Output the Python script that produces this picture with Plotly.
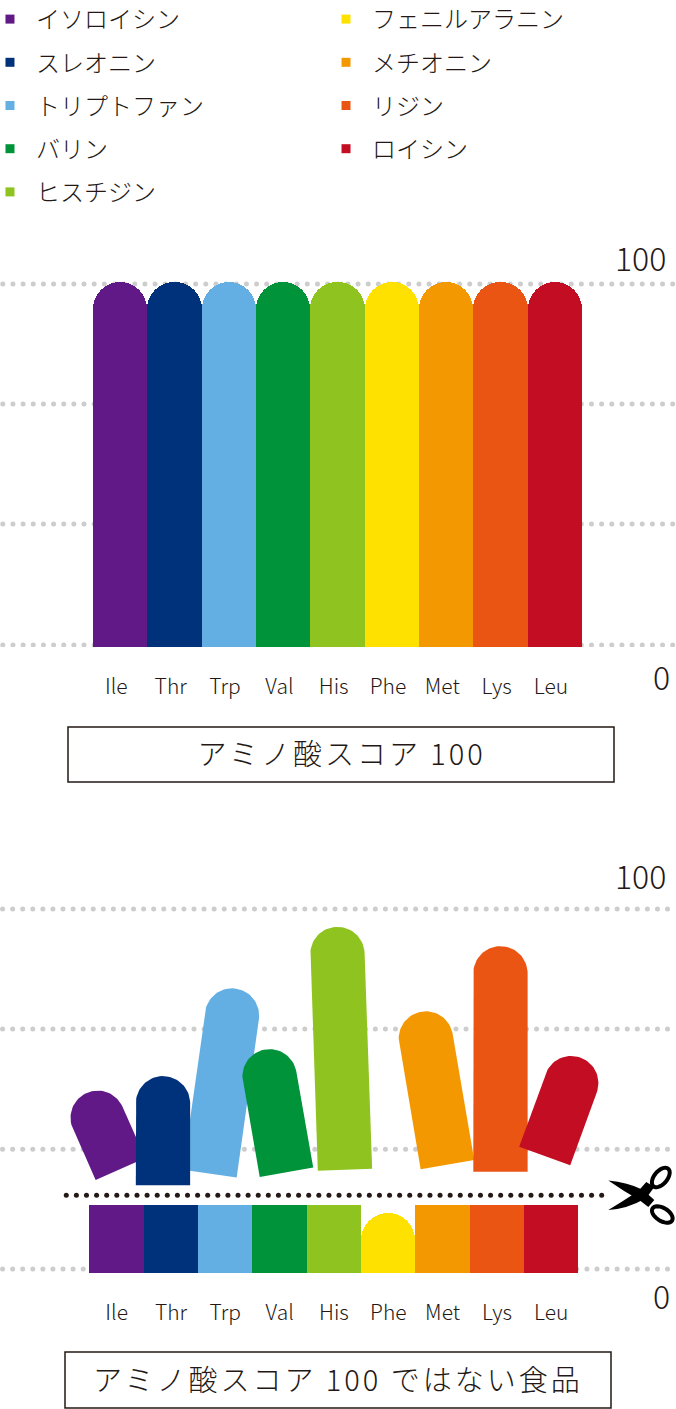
import numpy as np
import plotly.graph_objects as go

WIDTH = 676
HEIGHT = 1409
FONT = "Noto Sans CJK JP"
INK = "#231815"
DOT_GRAY = "#cdcdcd"

# nomes e cores dos aminoácidos
NAMES_LEFT = ["イソロイシン", "スレオニン", "トリプトファン", "バリン", "ヒスチジン"]
NAMES_RIGHT = ["フェニルアラニン", "メチオニン", "リジン", "ロイシン"]
CODES = ["Ile", "Thr", "Trp", "Val", "His", "Phe", "Met", "Lys", "Leu"]
COLORS = ["#601986", "#00317b", "#63aee2", "#00933a", "#8fc31f", "#ffe100", "#f39800", "#ea5514", "#c30d23"]

# gráfico de cima: todos em 100
TOP_SCORES = [100] * 9
TOP_GRID = [0.55, 33.7, 66.6, 99.45]

# gráfico de baixo: pedaços abaixo da linha de corte
STUB_SCORES = [18.9, 18.9, 18.9, 18.9, 18.9, 16.7, 18.9, 18.9, 18.9]
LOW_GRID = [1.1, 34.4, 67.8, 101.1]
CUT_SCORE = 21.6

# pedaços cortados: None = sem pedaço (Phe é o limitante)
PIECE_ORDER = [0, 2, 1, 3, 4, 6, 7, 8]
PIECE_LENGTH = [23.1, 30.3, 51.9, 34.6, 67.5, None, 43.1, 62.7, 29.1]
PIECE_BOTTOM = [28.9, 24.4, 27.6, 28.0, 28.7, None, 30.1, 28.1, 32.5]
PIECE_X = [0.07, 0.853, 1.714, 3.126, 4.203, None, 6.089, 7.065, 7.879]
PIECE_TILT = [-24, 0, 8, -10, -2, None, -9.7, 0, 20]

BAND_PX = 54.33
LOW_PX_PER_SCORE = 3.6


def paper_y(py):
    return 1 - py / HEIGHT


def piece_outline(x0, y0, length, tilt):
    # contorno do pedaço inclinado, calculado em pixels e voltando para as unidades dos eixos
    t = np.radians(tilt)
    up = np.array([np.sin(t), np.cos(t)])
    side = np.array([np.cos(t), -np.sin(t)])
    r = BAND_PX / 2
    body = length * LOW_PX_PER_SCORE - r
    ang = np.linspace(0, np.pi, 40)
    pts = [-r * side]
    for a in ang:
        pts.append(body * up + r * (-np.cos(a) * side + np.sin(a) * up))
    pts.append(r * side)
    pts.append(-r * side)
    pts = np.array(pts)
    return x0 + pts[:, 0] / BAND_PX, y0 + pts[:, 1] / LOW_PX_PER_SCORE


def ellipse_path(cx, cy, a, b, deg):
    t = np.linspace(0, 2 * np.pi, 32)
    rot = np.radians(deg)
    xs = cx + a * np.cos(t) * np.cos(rot) - b * np.sin(t) * np.sin(rot)
    ys = cy + a * np.cos(t) * np.sin(rot) + b * np.sin(t) * np.cos(rot)
    return "M" + " L".join(f"{x:.2f},{y:.2f}" for x, y in zip(xs, ys)) + " Z"


fig = go.Figure()

# linhas pontilhadas
xTop = np.linspace(-2.16, 10.17, 67)
xLow = np.linspace(-2.10, 10.14, 67)
for score in TOP_GRID:
    fig.add_trace(go.Scatter(x=xTop, y=[score] * len(xTop), mode="markers", xaxis="x", yaxis="y",
                             marker=dict(color=DOT_GRAY, size=5), showlegend=False, hoverinfo="skip", zorder=0))
for score in LOW_GRID:
    fig.add_trace(go.Scatter(x=xLow, y=[score] * len(xLow), mode="markers", xaxis="x2", yaxis="y2",
                             marker=dict(color=DOT_GRAY, size=5), showlegend=False, hoverinfo="skip", zorder=0))

# barras de cima
fig.add_trace(go.Bar(x=list(range(9)), y=TOP_SCORES, width=1,
                     marker=dict(color=COLORS, cornerradius=27, line_width=0), xaxis="x", yaxis="y",
                     showlegend=False, hoverinfo="skip", zorder=1))

# barras de baixo
for i, code in enumerate(CODES):
    fig.add_trace(go.Bar(x=[i], y=[STUB_SCORES[i]], width=1,
                         marker=dict(color=COLORS[i], cornerradius=27 if code == "Phe" else 0, line_width=0),
                         xaxis="x2", yaxis="y2", showlegend=False, hoverinfo="skip", zorder=1))

# pedaços cortados
for i in PIECE_ORDER:
    px, py = piece_outline(PIECE_X[i], PIECE_BOTTOM[i], PIECE_LENGTH[i], PIECE_TILT[i])
    fig.add_trace(go.Scatter(x=px, y=py, mode="lines", fill="toself", fillcolor=COLORS[i], line_width=0,
                             xaxis="x2", yaxis="y2", showlegend=False, hoverinfo="skip", zorder=2))

# linha de corte
xCut = np.linspace(-0.927, 8.928, 54)
fig.add_trace(go.Scatter(x=xCut, y=[CUT_SCORE] * len(xCut), mode="markers", xaxis="x2", yaxis="y2",
                         marker=dict(color=INK, size=5), showlegend=False, hoverinfo="skip", zorder=3))

# legendas: duas colunas
for i, name in enumerate(NAMES_LEFT + NAMES_RIGHT):
    fig.add_trace(go.Scatter(x=[None], y=[None], mode="markers", name=name, legendgroup=name,
                             legend="legend" if i < len(NAMES_LEFT) else "legend2",
                             marker=dict(symbol="square", size=9, color=COLORS[i])))

legend_style = dict(traceorder="grouped", tracegroupgap=9, itemwidth=42, yanchor="top", xanchor="left",
                    bgcolor="rgba(0,0,0,0)", font=dict(family=FONT, size=24, color=INK, weight=300))

# tesoura, em pixels em relação ao pino
blade_a = "M-31,13.5 Q-12,12 4,4 L15,-6 L9,-13 L0,-6 Q-16,3 -31,13.5 Z"
blade_b = "M-31,-16 Q-16,-7 -1,3 L7,12 L15,7 L7,-4 Q-12,-15 -31,-16 Z"
scissor = dict(type="path", xref="paper", yref="paper", xsizemode="pixel", ysizemode="pixel",
               xanchor=639.3 / WIDTH, yanchor=paper_y(1194))
shapes = [
    dict(scissor, path=blade_a, fillcolor="black", line_width=0),
    dict(scissor, path=blade_b, fillcolor="black", line_width=0),
    dict(scissor, path=ellipse_path(21.5, 16.5, 11.5, 6.5, 50), fillcolor="rgba(0,0,0,0)", line=dict(color="black", width=4)),
    dict(scissor, path=ellipse_path(23, -20.5, 11.5, 6.5, -32), fillcolor="rgba(0,0,0,0)", line=dict(color="black", width=4)),
]

annotations = []
for text, right, py in [("100", 668, 257), ("0", 672, 676), ("100", 668, 875), ("0", 672, 1295)]:
    annotations.append(dict(text=text, x=right / WIDTH, y=paper_y(py), xref="paper", yref="paper",
                            xanchor="right", yanchor="middle", showarrow=False,
                            font=dict(family=FONT, size=32, color=INK, weight=300)))

# caixas com o texto
for text, x0, x1, y0, y1 in [("アミノ酸スコア 100", 68, 614, 727, 782),
                             ("アミノ酸スコア 100 ではない食品", 65, 611, 1352, 1408)]:
    shapes.append(dict(type="rect", xref="paper", yref="paper", x0=x0 / WIDTH, x1=x1 / WIDTH,
                       y0=paper_y(y0), y1=paper_y(y1), line=dict(color=INK, width=1.5)))
    annotations.append(dict(text=text, x=(x0 + x1) / 2 / WIDTH, y=paper_y((y0 + y1) / 2 - 2), xref="paper", yref="paper",
                            xanchor="center", yanchor="middle", align="center", showarrow=False,
                            font=dict(family=FONT, size=29, color=INK, weight=300)))

tick_font = dict(family=FONT, size=21, color=INK, weight=300)
hidden_y = dict(visible=False, showgrid=False, zeroline=False)

fig.update_layout(
    width=WIDTH,
    height=HEIGHT,
    margin=dict(l=0, r=0, t=0, b=0, pad=0, autoexpand=False),
    template=None,
    plot_bgcolor="white",
    paper_bgcolor="white",
    barmode="overlay",
    bargap=0,
    xaxis=dict(domain=[0, 1], range=[-2.212, 10.231], tickmode="array", tickvals=[i - 0.07 for i in range(9)],
               ticktext=CODES, tickfont=tick_font, showgrid=False, zeroline=False, showline=False, ticks="",
               ticklabelstandoff=25, anchor="y"),
    yaxis=dict(hidden_y, domain=[paper_y(647), paper_y(250)], range=[0, 108.8], anchor="x"),
    xaxis2=dict(domain=[0, 1], range=[-2.147, 10.296], tickmode="array", tickvals=list(range(9)),
                ticktext=CODES, tickfont=tick_font, showgrid=False, zeroline=False, showline=False, ticks="",
                ticklabelstandoff=25, anchor="y2"),
    yaxis2=dict(hidden_y, domain=[paper_y(1273), paper_y(880)], range=[0, 109.17], anchor="x2"),
    legend=dict(legend_style, x=-0.0237, y=paper_y(-3)),
    legend2=dict(legend_style, x=0.4734, y=paper_y(-3)),
    shapes=shapes,
    annotations=annotations,
)

# margem da página e espaçamento das letras nas caixas
post = """
document.body.style.margin = '0';
document.querySelectorAll('.annotation-text').forEach(function (t) {
    if (t.textContent.indexOf('アミノ') === 0) { t.style.letterSpacing = '3px'; }
});
"""
fig.write_html("out.html", post_script=post, config={"displayModeBar": False})
